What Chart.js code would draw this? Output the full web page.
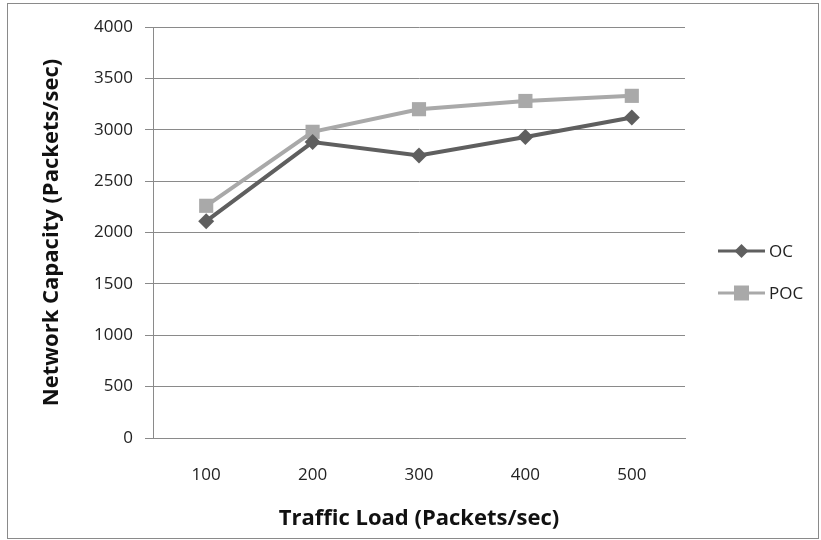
<!DOCTYPE html>
<html>
<head>
<meta charset="utf-8">
<script src="https://cdn.jsdelivr.net/npm/chart.js@4"></script>
<style>
  html, body { margin: 0; padding: 0; background: #fff; }
  #wrap { width: 821px; height: 540px; position: relative; }
</style>
</head>
<body>
<div id="wrap"><canvas id="capacity"></canvas></div>
<script>
const trafficLoad = ['100', '200', '300', '400', '500'];
const ocValues = [2110, 2880, 2750, 2930, 3120];
const pocValues = [2260, 2980, 3200, 3280, 3330];
const yTicks = [0, 500, 1000, 1500, 2000, 2500, 3000, 3500, 4000];

const FONT = '"Open Sans", "DejaVu Sans", sans-serif';

// legend with line + marker, drawn at right like the original
const sideLegend = {
  id: 'sideLegend',
  afterDraw(chart) {
    const ctx = chart.ctx;
    ctx.save();
    // outer frame
    ctx.strokeStyle = '#8a8a8a';
    ctx.lineWidth = 1;
    ctx.strokeRect(7.5, 3.5, chart.width - 10, chart.height - 5);

    const startY = 251;
    chart.data.datasets.forEach((ds, i) => {
      const y = startY + i * 42;
      const x0 = 718, x1 = 765;
      ctx.strokeStyle = ds.borderColor;
      ctx.lineWidth = 3;
      ctx.beginPath();
      ctx.moveTo(x0, y);
      ctx.lineTo(x1, y);
      ctx.stroke();
      ctx.fillStyle = ds.backgroundColor;
      const cx = (x0 + x1) / 2;
      if (ds.pointStyle === 'rectRot') {
        ctx.beginPath();
        ctx.moveTo(cx, y - 7);
        ctx.lineTo(cx + 7, y);
        ctx.lineTo(cx, y + 7);
        ctx.lineTo(cx - 7, y);
        ctx.closePath();
        ctx.fill();
      } else {
        ctx.fillRect(cx - 7.5, y - 7.5, 15, 15);
      }
      ctx.fillStyle = '#222';
      ctx.font = '17px ' + FONT;
      ctx.textBaseline = 'middle';
      ctx.textAlign = 'left';
      ctx.fillText(ds.label, x1 + 4, y + 1);
    });
    ctx.restore();
  }
};

const ctx = document.getElementById('capacity').getContext('2d');
new Chart(ctx, {
  type: 'line',
  data: {
    labels: trafficLoad,
    datasets: [
      {
        label: 'OC',
        data: ocValues,
        borderColor: '#5f5f5f',
        backgroundColor: '#5f5f5f',
        borderWidth: 4,
        pointStyle: 'rectRot',
        pointRadius: 8,
        pointBorderWidth: 0,
        tension: 0,
      },
      {
        label: 'POC',
        data: pocValues,
        borderColor: '#a9a9a9',
        backgroundColor: '#a9a9a9',
        borderWidth: 4,
        pointStyle: 'rect',
        pointRadius: 10,
        pointBorderWidth: 0,
        tension: 0,
      },
    ],
  },
  options: {
    responsive: true,
    maintainAspectRatio: false,
    animation: false,
    layout: { padding: { left: 10, top: 27, right: 136, bottom: 0 } },
    scales: {
      x: {
        offset: true,
        grid: { display: false, drawTicks: false },
        border: { color: '#8a8a8a', width: 1 },
        ticks: { color: '#222', font: { family: FONT, size: 17 }, padding: 27 },
        title: {
          display: true,
          text: 'Traffic Load (Packets/sec)',
          color: '#111',
          font: { family: FONT, size: 22, weight: 'bold' },
          padding: { top: 0, bottom: 8 },
        },
        afterFit(scale) { scale.height = 102; },
      },
      y: {
        min: 0,
        max: 4000,
        afterBuildTicks(scale) { scale.ticks = yTicks.map(v => ({ value: v })); },
        grid: { color: '#8a8a8a', lineWidth: 1, tickLength: 8 },
        border: { color: '#8a8a8a', width: 1 },
        ticks: {
          color: '#222',
          font: { family: FONT, size: 17 },
          padding: 12,
          callback: (v) => String(v),
        },
        title: {
          display: true,
          text: 'Network Capacity (Packets/sec)',
          color: '#111',
          font: { family: FONT, size: 22, weight: 'bold' },
          padding: { top: 29, bottom: 0 },
        },
        afterFit(scale) { scale.width = 143; },
      },
    },
    plugins: {
      legend: { display: false },
      tooltip: { enabled: false },
    },
  },
  plugins: [sideLegend],
});
</script>
</body>
</html>
